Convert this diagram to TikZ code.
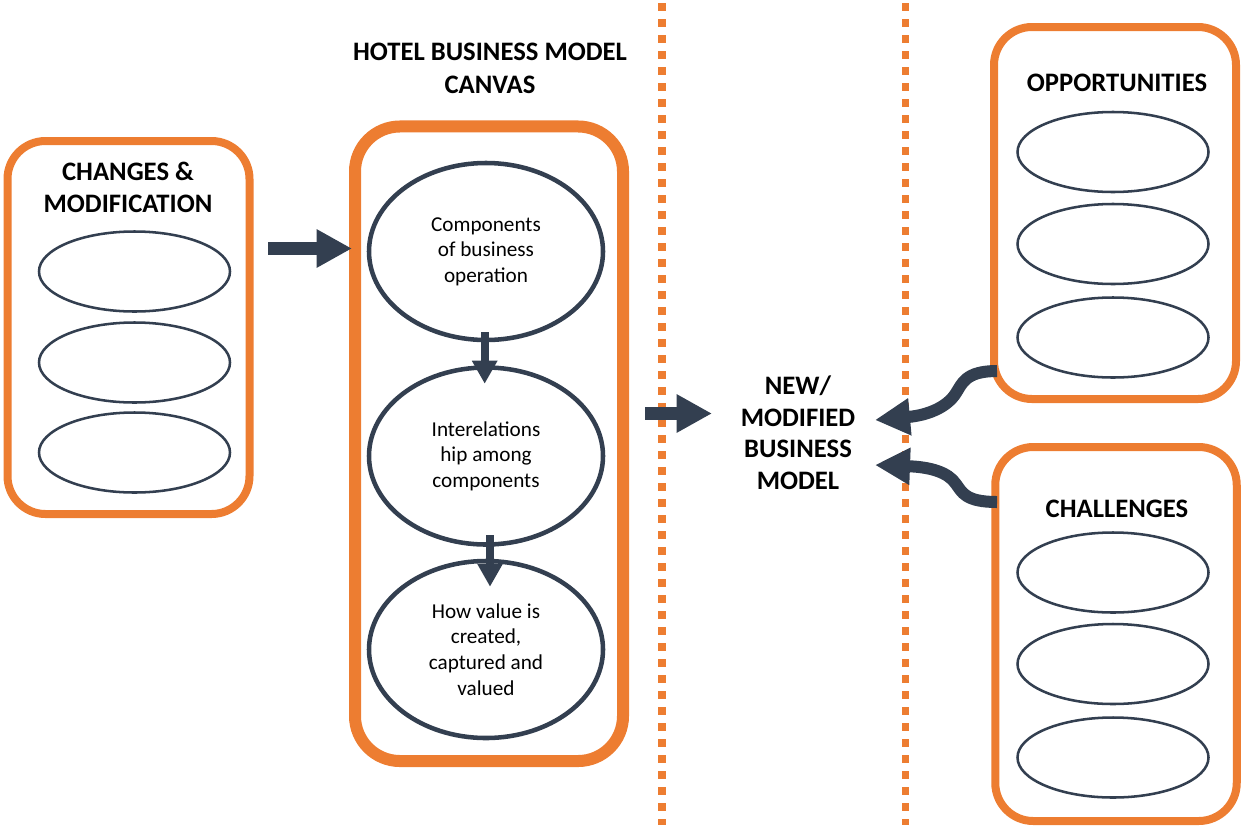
\documentclass[tikz,border=0pt]{standalone}
\usepackage{fontspec}
\setmainfont{Carlito}
\usetikzlibrary{arrows.meta,calc,shapes.geometric}
\definecolor{frame}{HTML}{ED7D31}
\definecolor{ink}{HTML}{333F50}

\begin{document}
\begin{tikzpicture}[x=0.75pt,y=-0.75pt,
  panel/.style={draw=frame, line width=6pt, rounded corners=28.5pt, inner sep=0pt, outer sep=0pt},
  slot/.style={ellipse, draw=ink, line width=1.9pt, minimum width=143.25pt, minimum height=60pt, inner sep=0pt},
  stage/.style={ellipse, draw=ink, line width=3.4pt, minimum width=175.5pt, minimum height=132.75pt,
    inner sep=0pt, align=center, font=\fontsize{15.9}{19.2}\selectfont},
  title/.style={font=\bfseries\fontsize{20}{24.5}\selectfont, align=center, inner sep=0pt},
  divider/.style={draw=frame, line width=5.6pt, dash pattern=on 5.6pt off 6.4pt},
  bigarrow/.style={draw=ink, line width=9.75pt, -{Triangle[length=26.5pt,width=27pt]}},
  smallarrow/.style={draw=ink, line width=6pt, -{Triangle[length=17.25pt,width=18pt]}},
  bendarrow/.style={draw=ink, line width=9pt, -{Triangle[length=26.25pt,width=26.25pt]}}]

\useasboundingbox (0,0) rectangle (1241,825);

% dotted dividers
\coordinate (d1t) at (662,3.3);  \coordinate (d1b) at (662,825);
\coordinate (d2t) at (905.3,3.3); \coordinate (d2b) at (905.3,825);
\draw[divider] (d1t) -- (d1b);
\draw[divider] (d2t) -- (d2b);

% changes & modification
\node[panel, minimum width=181.5pt, minimum height=279.75pt] (chg) at (128.5,327.5) {};
\node[title, anchor=base] (chgT) at (128,212.7) {CHANGES \&\\MODIFICATION};
\node[slot] (c1) at (134.5,271.5) {};
\node[slot] (c2) at (134.5,362.5) {};
\node[slot] (c3) at (134.5,452.5) {};

% business model canvas
\node[title, anchor=base] (bmcT) at (490,93.3) {HOTEL BUSINESS MODEL\\CANVAS};
\node[panel, line width=9pt, rounded corners=33.75pt, minimum width=201pt, minimum height=475.9pt] (bmc) at (489,443.75) {};
\node[stage] (s1) at (486,251.5) {Components\\of business\\operation};
\node[stage] (s2) at (486,456) {Interelations\\hip among\\components};
\node[stage] (s3) at (486,649.5) {How value is\\created,\\captured and\\valued};
\draw[smallarrow] ($(s1.south)+(-1.3,-10)$) -- ($(s2.north)+(-1.3,18.5)$);
\draw[smallarrow, line width=5.6pt] ($(s2.south)+(4,-11.5)$) -- ($(s3.north)+(4,28)$);

% arrow into the canvas
\coordinate (a1s) at (268,248.5);
\coordinate (a1e) at (352,248.5);
\draw[bigarrow] (a1s) -- (a1e);

% outcome
\node[title, anchor=base, font=\bfseries\fontsize{20}{23.6}\selectfont] (newT) at (798,489) {NEW/\\MODIFIED\\BUSINESS\\MODEL};
\coordinate (a2s) at (645,413.5);
\coordinate (a2e) at (712,413.5);
\draw[bigarrow] (a2s) -- (a2e);

% opportunities
\node[panel, minimum width=181.5pt, minimum height=279pt] (opp) at (1115,213) {};
\node[title, anchor=base] (oppT) at (1117,91.7) {OPPORTUNITIES};
\node[slot] (o1) at (1113,152) {};
\node[slot] (o2) at (1113,244) {};
\node[slot] (o3) at (1113,337.5) {};

% challenges
\node[panel, minimum width=181.1pt, minimum height=280.5pt] (chl) at (1116,634) {};
\node[title, anchor=base] (chlT) at (1117,517) {CHALLENGES};
\node[slot] (h1) at (1113,572.5) {};
\node[slot] (h2) at (1113,664) {};
\node[slot] (h3) at (1113,757.5) {};

% curved arrows toward the new model
\coordinate (oppOut) at (997,371);
\coordinate (oppIn) at (875,420);
\coordinate (chlOut) at (997,502);
\coordinate (chlIn) at (875,465);
\draw[bendarrow] (oppOut) .. controls (965,371) and (962,384) .. (956,393)
  .. controls (948,406) and (930,415) .. (oppIn);
\draw[bendarrow] (chlOut) .. controls (965,502) and (962,492) .. (956,484)
  .. controls (948,472) and (930,467) .. (chlIn);

\end{tikzpicture}
\end{document}
